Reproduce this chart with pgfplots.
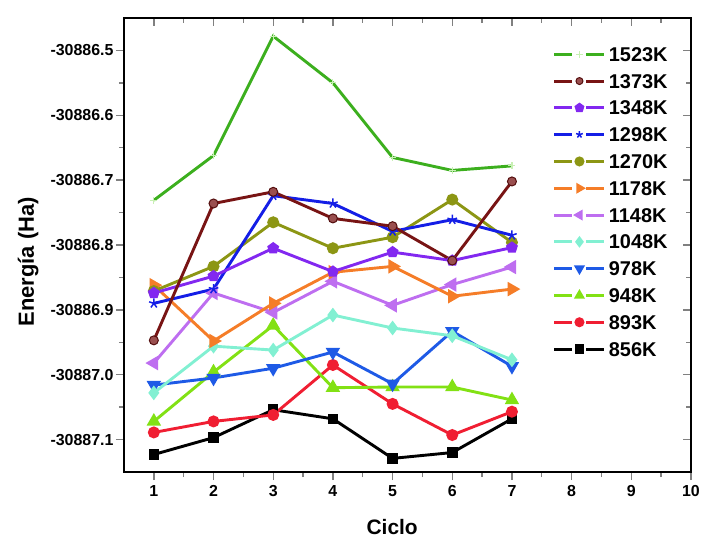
\documentclass[border=0pt]{standalone}
\usepackage{pgfplots}
\pgfplotsset{compat=1.18}
\usepackage{pgfplotstable}
\usepackage{fontspec}
\setmainfont{Liberation Sans}
\definecolor{c1523}{RGB}{60,175,30}
\definecolor{m1523}{RGB}{200,240,180}
\definecolor{c1373}{RGB}{120,20,20}
\definecolor{c1348}{RGB}{130,40,240}
\definecolor{c1298}{RGB}{20,30,230}
\definecolor{c1270}{RGB}{140,150,20}
\definecolor{c1178}{RGB}{245,125,40}
\definecolor{c1148}{RGB}{190,110,240}
\definecolor{c1048}{RGB}{130,240,210}
\definecolor{c978}{RGB}{30,90,230}
\definecolor{c948}{RGB}{130,225,20}
\definecolor{c893}{RGB}{240,30,50}
\definecolor{c856}{RGB}{0,0,0}
\pgfplotstableread{
x y
1 -30887.123
2 -30887.097
3 -30887.054
4 -30887.068
5 -30887.129
6 -30887.120
7 -30887.068
}\tA
\pgfplotstableread{
x y
1 -30887.089
2 -30887.072
3 -30887.062
4 -30886.985
5 -30887.045
6 -30887.093
7 -30887.057
}\tB
\pgfplotstableread{
x y
1 -30887.072
2 -30886.996
3 -30886.924
4 -30887.020
5 -30887.019
6 -30887.019
7 -30887.039
}\tC
\pgfplotstableread{
x y
1 -30887.016
2 -30887.005
3 -30886.990
4 -30886.965
5 -30887.014
6 -30886.933
7 -30886.987
}\tD
\pgfplotstableread{
x y
1 -30887.028
2 -30886.956
3 -30886.962
4 -30886.908
5 -30886.928
6 -30886.940
7 -30886.977
}\tE
\pgfplotstableread{
x y
1 -30886.982
2 -30886.874
3 -30886.904
4 -30886.856
5 -30886.893
6 -30886.861
7 -30886.834
}\tF
\pgfplotstableread{
x y
1 -30886.862
2 -30886.948
3 -30886.890
4 -30886.842
5 -30886.833
6 -30886.879
7 -30886.868
}\tG
\pgfplotstableread{
x y
1 -30886.871
2 -30886.833
3 -30886.765
4 -30886.805
5 -30886.788
6 -30886.730
7 -30886.796
}\tH
\pgfplotstableread{
x y
1 -30886.890
2 -30886.868
3 -30886.724
4 -30886.736
5 -30886.779
6 -30886.761
7 -30886.785
}\tI
\pgfplotstableread{
x y
1 -30886.874
2 -30886.848
3 -30886.805
4 -30886.841
5 -30886.811
6 -30886.824
7 -30886.804
}\tJ
\pgfplotstableread{
x y
1 -30886.947
2 -30886.736
3 -30886.718
4 -30886.759
5 -30886.771
6 -30886.824
7 -30886.702
}\tK
\pgfplotstableread{
x y
1 -30886.731
2 -30886.662
3 -30886.478
4 -30886.550
5 -30886.665
6 -30886.685
7 -30886.678
}\tL
\pgfplotsset{
  common/.style={
    width=567bp, height=454bp, scale only axis=true,
    xmin=0.5, xmax=10, ymin=-30887.15, ymax=-30886.45,
    y coord trafo/.code={\edef\pgfmathresult{\fpeval{##1+30887}}},
    xtick={1,2,3,4,5,6,7,8,9,10},
    ytick={-30887.1,-30887.0,-30886.9,-30886.8,-30886.7,-30886.6,-30886.5},
    minor x tick num=1, minor y tick num=1,
    axis line style={line width=1.6bp},
    major tick style={line width=1.4bp},
    minor tick style={line width=1.4bp},
    major tick length=8bp, minor tick length=5bp,
  },
  pl/.style={line width=2.9bp, mark size=4.5bp},
}
\begin{document}
\begin{tikzpicture}
\useasboundingbox (-124bp,-67bp) rectangle (579bp,472bp);
\begin{axis}[common,
  tick align=outside, xtick pos=left, ytick pos=left,
  /pgf/number format/assume math mode=true,
  yticklabels={-30887.1,-30887.0,-30886.9,-30886.8,-30886.7,-30886.6,-30886.5},
  every tick label/.append style={font=\fontsize{16}{16}\selectfont\bfseries},
  yticklabel style={xshift=1bp},
  xticklabel style={yshift=-2bp},
  xlabel={Ciclo}, ylabel={Energía (Ha)},
  xlabel style={font=\fontsize{21}{21}\selectfont\bfseries, at={(axis description cs:0.473,-0.121)}, anchor=center},
  ylabel style={font=\fontsize{22}{22}\selectfont\bfseries, at={(axis description cs:-0.169,0.463)}, anchor=center},
  reverse legend,
  legend style={draw=none, fill=none, at={(0.751,0.947)}, anchor=north west,
    font=\fontsize{20}{20}\selectfont\bfseries, row sep=6.8bp,
    nodes={text height=14bp, text depth=0bp, inner sep=3bp}},
  legend cell align=left,
  legend image code/.code={%
    \draw[#1,mark=none] (0bp,0bp) -- (18bp,0bp);
    \draw[#1,mark=none] (32bp,0bp) -- (50bp,0bp);
    \path[#1,mark size=3.5bp] plot coordinates {(25bp,0bp)};},
]
\addplot[pl, color=c856, mark=square*, mark size=3.8bp] table {\tA};
\addlegendentry{856K}
\addplot[pl, color=c893, mark=*] table {\tB};
\addlegendentry{893K}
\addplot[pl, color=c948, mark=triangle*, mark size=5.5bp] table {\tC};
\addlegendentry{948K}
\addplot[pl, color=c978, mark=triangle*, mark size=5.5bp, mark options={rotate=180}] table {\tD};
\addlegendentry{978K}
\addplot[pl, color=c1048, mark=diamond*, mark size=5bp] table {\tE};
\addlegendentry{1048K}
\addplot[pl, color=c1148, mark=triangle*, mark size=5.5bp, mark options={rotate=90}] table {\tF};
\addlegendentry{1148K}
\addplot[pl, color=c1178, mark=triangle*, mark size=5.5bp, mark options={rotate=-90}] table {\tG};
\addlegendentry{1178K}
\addplot[pl, color=c1270, mark=*] table {\tH};
\addlegendentry{1270K}
\addplot[pl, color=c1298, mark=star, mark size=5bp, mark options={line width=1.5bp}] table {\tI};
\addlegendentry{1298K}
\addplot[pl, color=c1348, mark=pentagon*] table {\tJ};
\addlegendentry{1348K}
\addplot[pl, color=c1373, mark=*, mark options={fill=c1373!75!white, draw=c1373!70!black, line width=1bp}] table {\tK};
\addlegendentry{1373K}
\addplot[pl, color=c1523, mark=+, mark size=3.5bp, mark options={draw=m1523, line width=1.2bp}] table {\tL};
\addlegendentry{1523K}
\end{axis}
\begin{axis}[common,
  tick align=inside, xtick pos=right, ytick pos=right,
  xticklabels={}, yticklabels={},
]
\end{axis}
\end{tikzpicture}
\end{document}
